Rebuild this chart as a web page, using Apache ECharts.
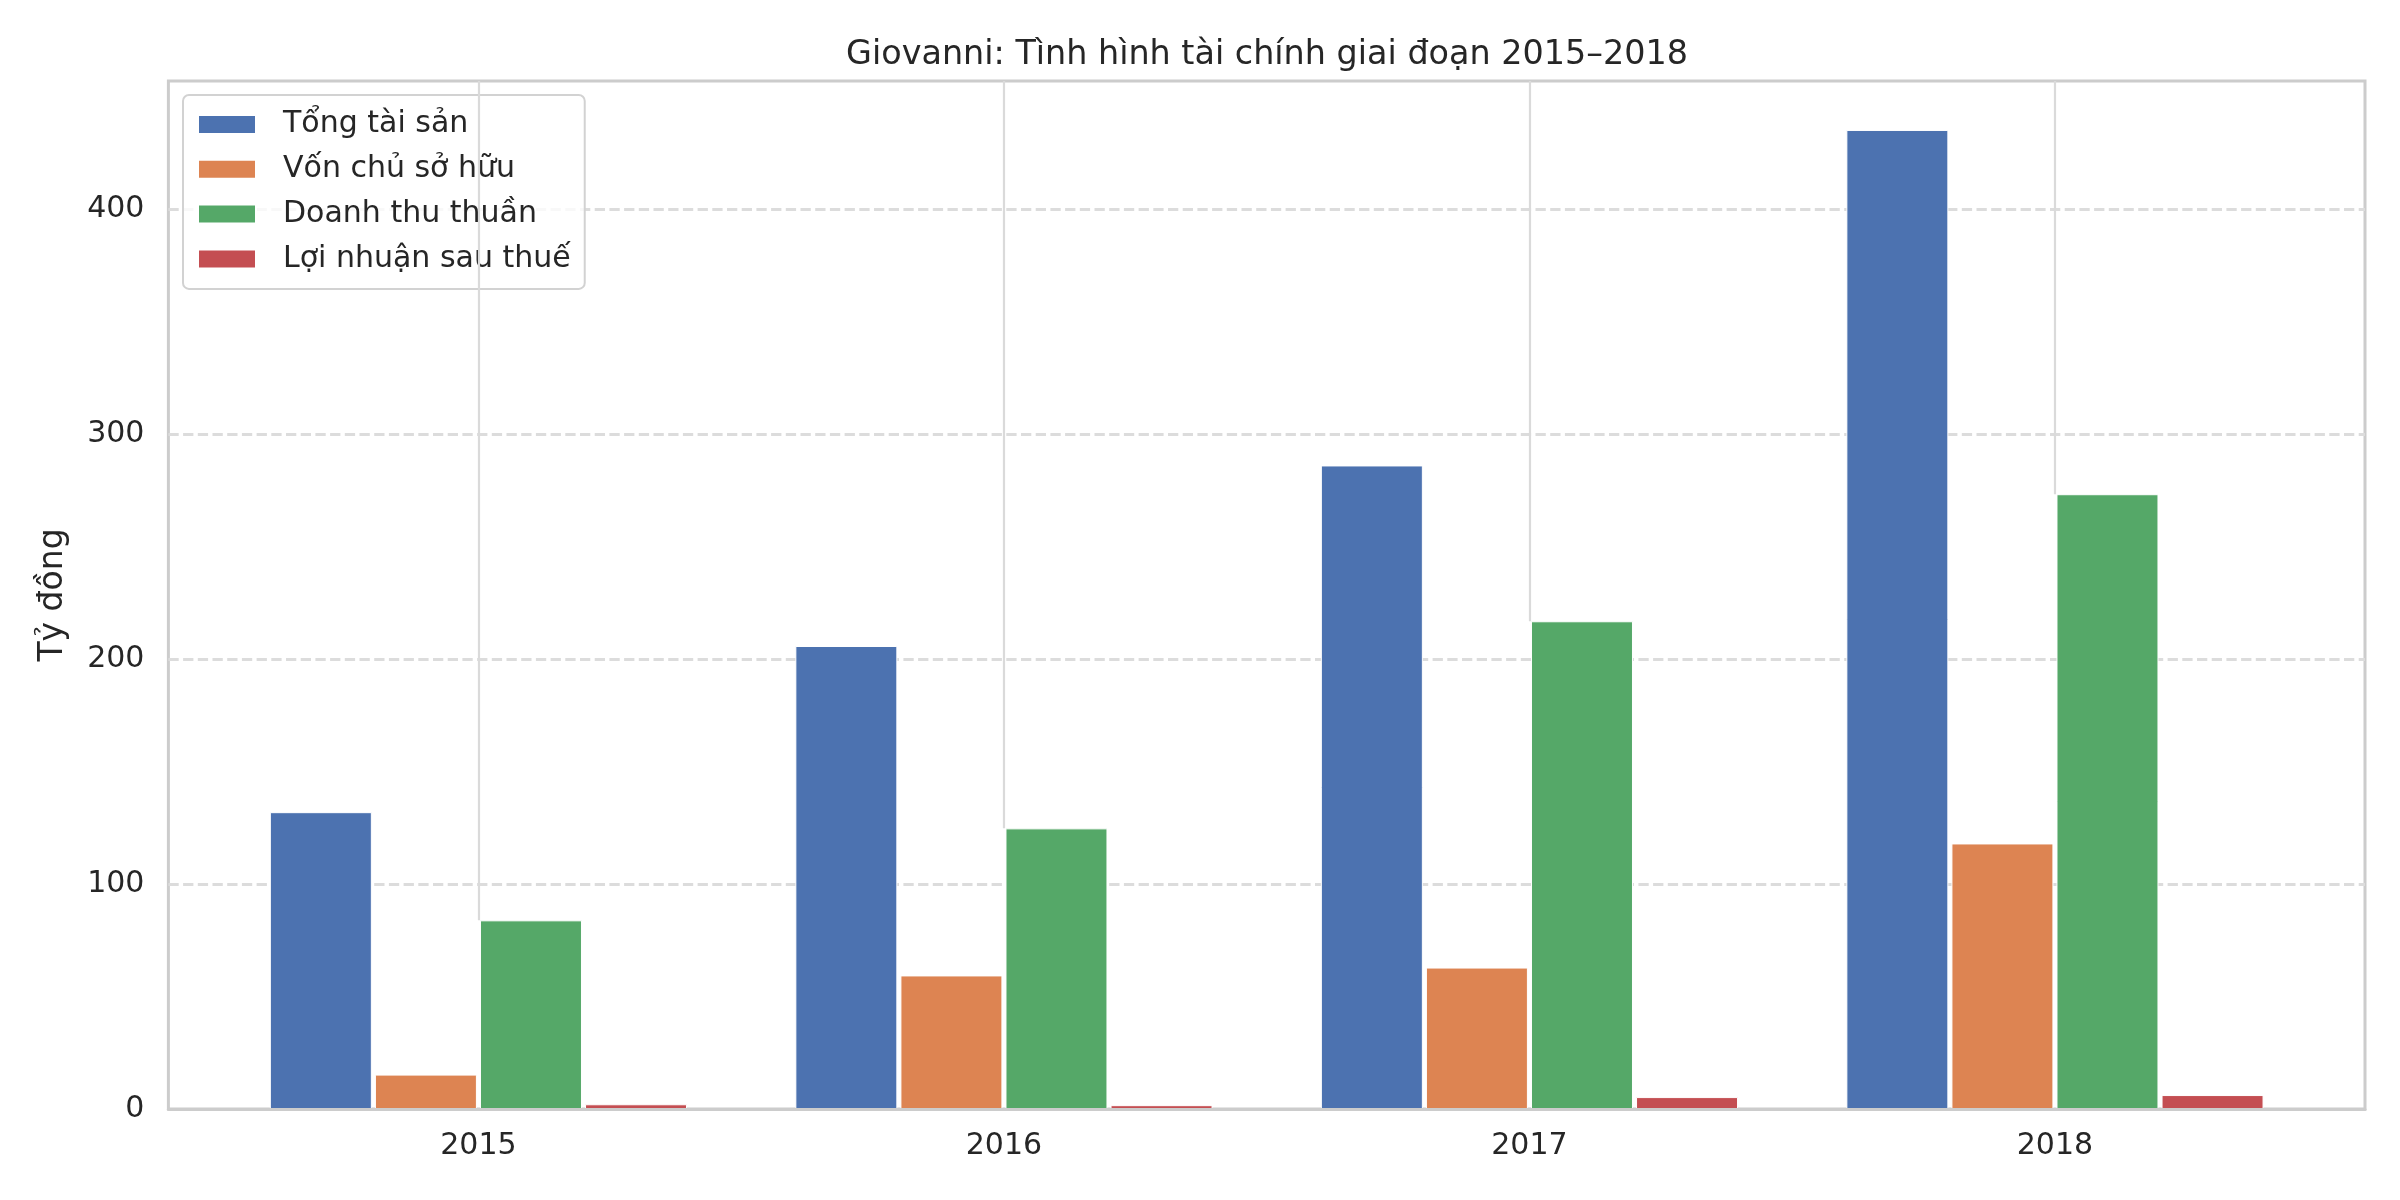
<!DOCTYPE html>
<html>
<head>
<meta charset="utf-8">
<script src="https://cdn.jsdelivr.net/npm/echarts@6/dist/echarts.min.js"></script>
<style>
  html, body { margin: 0; padding: 0; background: #ffffff; }
  #chart { width: 2400px; height: 1200px; }
</style>
</head>
<body>
<div id="chart"></div>
<script>
const years = ['2015', '2016', '2017', '2018'];
const tongTaiSan = [132.0, 205.9, 286.2, 435.4];
const vonChuSoHuu = [15.3, 59.4, 62.9, 118.1];
const doanhThuThuan = [83.9, 124.8, 216.9, 273.4];
const loiNhuanSauThue = [2.1, 1.7, 5.3, 6.2];
const seriesNames = ['Tổng tài sản', 'Vốn chủ sở hữu', 'Doanh thu thuần', 'Lợi nhuận sau thuế'];
const colors = ['#4C72B0', '#DD8452', '#55A868', '#C44E52'];
const yTicks = [0, 100, 200, 300, 400];

const FONT = 'DejaVu Sans';
const allVals = [].concat(tongTaiSan, vonChuSoHuu, doanhThuThuan, loiNhuanSauThue);
const yMax = Math.max(...allVals) * 1.05;

const chart = echarts.init(document.getElementById('chart'), null, { renderer: 'canvas' });

function barSeries(name, vals, color) {
  return {
    type: 'bar',
    name: name,
    data: vals.map((v, i) => [i, v]),
    barWidth: 102,
    barGap: '3%',
    z: 3,
    itemStyle: { color: color, borderColor: '#ffffff', borderWidth: 1 }
  };
}

// vertical category grid lines: hidden by the two middle bars of each group
const vLines = years.map((y, i) => [
  { coord: [i, Math.max(vonChuSoHuu[i], doanhThuThuan[i])] },
  { coord: [i, yMax] }
]);

const option = {
  animation: false,
  backgroundColor: '#ffffff',
  textStyle: { fontFamily: FONT },
  title: {
    text: 'Giovanni: Tình hình tài chính giai đoạn 2015–2018',
    left: 1262,
    top: 30,
    textAlign: 'center',
    textStyle: { fontFamily: FONT, fontSize: 33.4, fontWeight: 'normal', color: '#262626', lineHeight: 40 }
  },
  legend: {
    orient: 'vertical',
    left: 183,
    top: 95,
    padding: [14.5, 14, 15, 14],
    itemWidth: 58,
    itemHeight: 19,
    itemGap: 14.8,
    icon: 'rect',
    backgroundColor: 'rgba(255,255,255,0.8)',
    borderColor: '#d2d2d2',
    borderWidth: 2,
    borderRadius: 6,
    textStyle: { fontFamily: FONT, fontSize: 30, color: '#262626', lineHeight: 30, padding: [0, 0, 0, 22] },
    data: seriesNames
  },
  grid: {
    left: 168.4,
    top: 81,
    width: 2196.6,
    height: 1028,
    show: true,
    borderColor: '#cccccc',
    borderWidth: 3,
    backgroundColor: 'transparent',
    containLabel: false,
    outerBoundsMode: 'none'
  },
  xAxis: {
    type: 'value',
    min: -0.59,
    max: 3.59,
    z: 10,
    axisLine: { show: true, onZero: false, lineStyle: { color: '#cccccc', width: 3 } },
    axisTick: { show: false },
    splitLine: { show: false },
    axisLabel: {
      customValues: [0, 1, 2, 3],
      formatter: v => years[Math.round(v)],
      fontFamily: FONT, fontSize: 30, color: '#262626', lineHeight: 34, margin: 20
    }
  },
  yAxis: {
    type: 'value',
    min: 0,
    max: yMax,
    interval: 100,
    z: 0,
    name: 'Tỷ đồng',
    nameLocation: 'middle',
    nameGap: 98,
    nameTextStyle: { fontFamily: FONT, fontSize: 33, color: '#262626' },
    axisLine: { show: false },
    axisTick: { show: false },
    axisLabel: {
      showMaxLabel: false,
      formatter: v => (yTicks.indexOf(v) >= 0 ? String(v) : ''),
      fontFamily: FONT, fontSize: 30, color: '#262626', margin: 24
    },
    splitLine: {
      show: true,
      showMinLine: false,
      showMaxLine: false,
      lineStyle: { color: '#dcdcdc', width: 2.8, type: [10.3, 4.4] }
    }
  },
  series: [
    {
      type: 'line',
      name: '_vgrid',
      data: [],
      z: 1,
      silent: true,
      showSymbol: false,
      markLine: {
        silent: true,
        symbol: ['none', 'none'],
        label: { show: false },
        lineStyle: { color: '#dadada', width: 2.2, type: 'solid' },
        emphasis: { disabled: true },
        data: vLines
      }
    },
    barSeries(seriesNames[0], tongTaiSan, colors[0]),
    barSeries(seriesNames[1], vonChuSoHuu, colors[1]),
    barSeries(seriesNames[2], doanhThuThuan, colors[2]),
    barSeries(seriesNames[3], loiNhuanSauThue, colors[3])
  ]
};

chart.setOption(option);
</script>
</body>
</html>
